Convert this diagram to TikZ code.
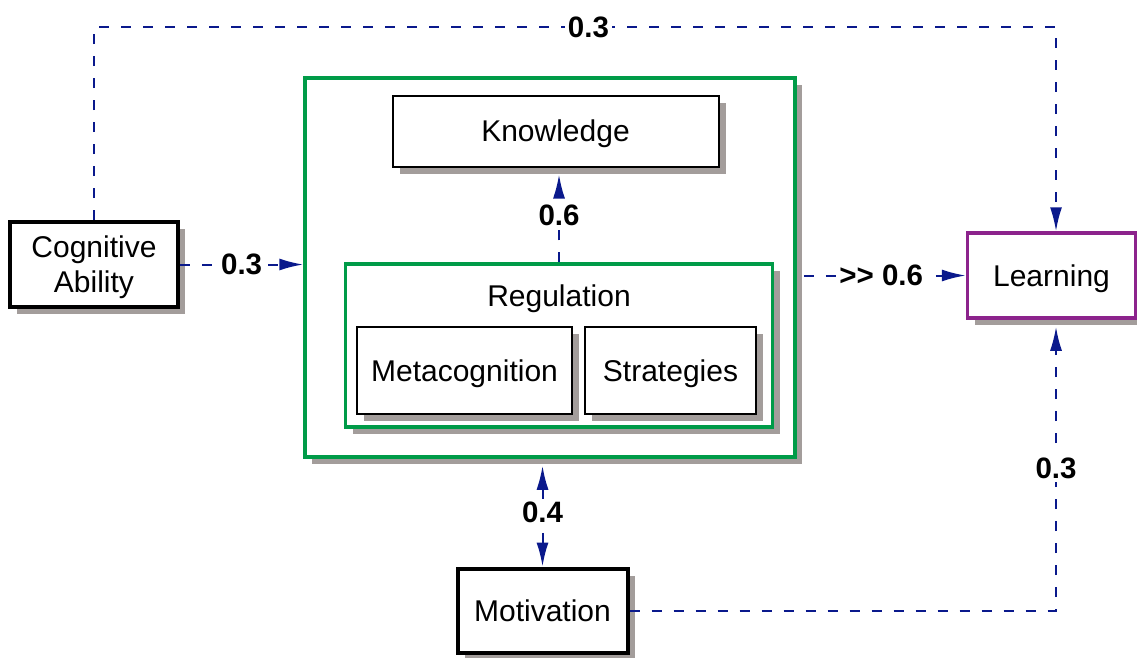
\documentclass[tikz,border=0pt]{standalone}
\usepackage{fontspec}
\setmainfont{Liberation Sans}
\usetikzlibrary{arrows.meta,shadows}

\definecolor{boxgreen}{RGB}{0,155,72}
\definecolor{boxpurple}{RGB}{140,35,140}
\definecolor{linknavy}{RGB}{10,25,140}
\definecolor{shadowgray}{RGB}{163,157,155}

\tikzset{
    shade/.style={drop shadow={shadow xshift=7pt,shadow yshift=-7pt,fill=shadowgray,opacity=1}},
    box/.style={draw,fill=white,line width=2pt,shade,inner sep=0pt,align=center,text depth=0pt},
    thickbox/.style={box,line width=4pt},
    greenbox/.style={box,draw=boxgreen,line width=3.5pt},
    learnbox/.style={box,draw=boxpurple,line width=3.5pt},
    link/.style={draw=linknavy,line width=2pt,dash pattern=on 10pt off 12pt,
        -{Latex[length=24pt,width=12pt,fill=linknavy]}},
    both/.style={{Latex[length=24pt,width=12pt,fill=linknavy]}-{Latex[length=24pt,width=12pt,fill=linknavy]}},
    weight/.style={fill=white,inner sep=3pt,font=\fontsize{29.5}{35}\selectfont\bfseries}
}

\begin{document}
\begin{tikzpicture}[x=1pt,y=-1pt,font=\fontsize{30}{35}\selectfont]
            \useasboundingbox (0,0) rectangle (1137,657);
            \node[thickbox,minimum width=168pt,minimum height=85pt] (cog) at (94,264.5) {Cognitive\\Ability};
            \node[greenbox,minimum width=490pt,minimum height=379pt] (big) at (550,267.5) {};
            \node[box,minimum width=326pt,minimum height=71pt] (know) at (555.5,131) {Knowledge};
            \node[greenbox,minimum width=427pt,minimum height=163pt] (reg) at (559,345.5) {};
            \node[text depth=0pt] (reglabel) at (559,296) {Regulation};
            \node[box,minimum width=215pt,minimum height=87pt] (meta) at (464.5,370.5) {Metacognition};
            \node[box,minimum width=171pt,minimum height=87pt] (strat) at (670.5,370.5) {Strategies};
            \node[learnbox,minimum width=168pt,minimum height=85pt] (learn) at (1051.5,275.5) {Learning};
            \node[thickbox,minimum width=170pt,minimum height=84pt] (motiv) at (542.5,610.5) {Motivation};
            \coordinate (corner) at (1056,27);
            \draw[link] (cog.north) |- node[weight,pos=0.757] (w1) {0.3} (corner) -- (corner |- learn.north);
            \draw[link] (cog.east) -- node[weight] (w2) {0.3} (cog.east -| big.west);
            \draw[link,shorten >=7pt] (reg.north) -- node[weight] (w3) {0.6} (reg.north |- know.south);
            \draw[link,shorten <=7pt] (learn.west -| big.east) -- node[weight] (w4) {>{}> 0.6} (learn.west);
            \draw[link,both,shorten <=7pt] (motiv.north |- big.south) -- node[weight] (w5) {0.4} (motiv.north);
            \draw[link,shorten >=7pt] (motiv.east) -| node[weight,pos=0.745] (w6) {0.3} (corner |- learn.south);
        \end{tikzpicture}
\end{document}
